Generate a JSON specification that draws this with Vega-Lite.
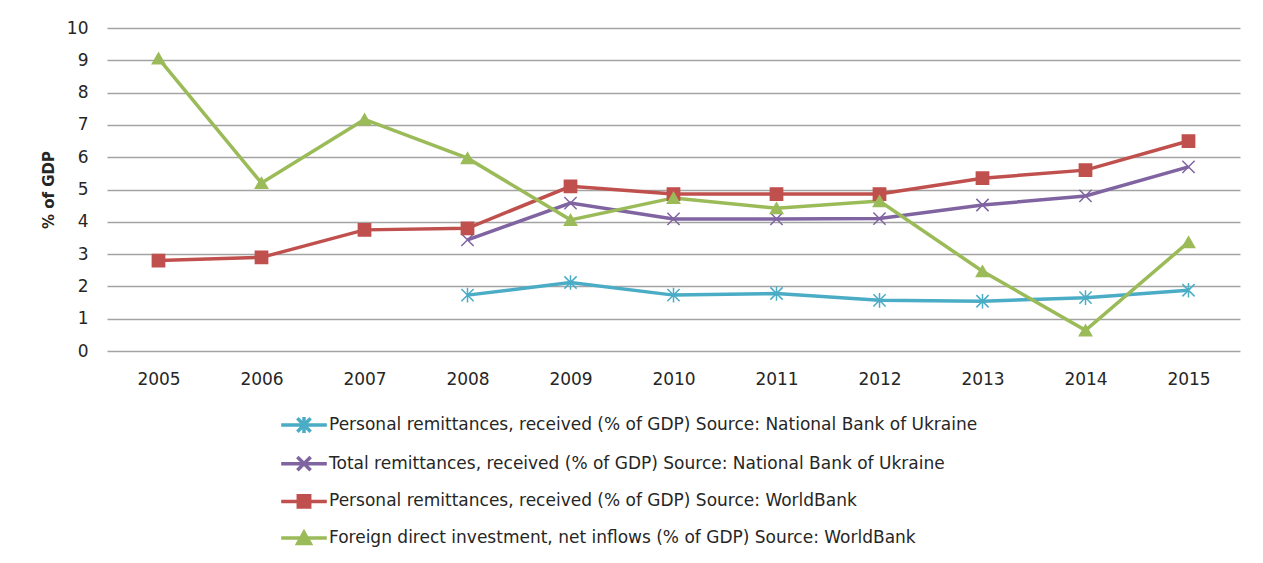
{
  "$schema": "https://vega.github.io/schema/vega-lite/v6.json",
  "width": 1133,
  "height": 323,
  "autosize": {"type": "none"},
  "padding": {"left": 107, "top": 28, "right": 23, "bottom": 212},
  "background": "white",
  "config": {
    "view": {"stroke": null},
    "font": "DejaVu Sans",
    "axis": {"labelFont": "DejaVu Sans", "labelFontSize": 17, "labelColor": "#262626", "titleColor": "#262626"},
    "legend": {"labelFont": "DejaVu Sans"}
  },
  "data": {
    "values": [
      {"year": "2008", "s": "A", "v": 1.73},
      {"year": "2009", "s": "A", "v": 2.12},
      {"year": "2010", "s": "A", "v": 1.73},
      {"year": "2011", "s": "A", "v": 1.78},
      {"year": "2012", "s": "A", "v": 1.57},
      {"year": "2013", "s": "A", "v": 1.54},
      {"year": "2014", "s": "A", "v": 1.65},
      {"year": "2015", "s": "A", "v": 1.88},
      {"year": "2008", "s": "B", "v": 3.44},
      {"year": "2009", "s": "B", "v": 4.58},
      {"year": "2010", "s": "B", "v": 4.09},
      {"year": "2011", "s": "B", "v": 4.09},
      {"year": "2012", "s": "B", "v": 4.1},
      {"year": "2013", "s": "B", "v": 4.52},
      {"year": "2014", "s": "B", "v": 4.8},
      {"year": "2015", "s": "B", "v": 5.7},
      {"year": "2005", "s": "C", "v": 2.8},
      {"year": "2006", "s": "C", "v": 2.9},
      {"year": "2007", "s": "C", "v": 3.75},
      {"year": "2008", "s": "C", "v": 3.8},
      {"year": "2009", "s": "C", "v": 5.1},
      {"year": "2010", "s": "C", "v": 4.86},
      {"year": "2011", "s": "C", "v": 4.86},
      {"year": "2012", "s": "C", "v": 4.86},
      {"year": "2013", "s": "C", "v": 5.35},
      {"year": "2014", "s": "C", "v": 5.6},
      {"year": "2015", "s": "C", "v": 6.5},
      {"year": "2005", "s": "D", "v": 9.06},
      {"year": "2006", "s": "D", "v": 5.2},
      {"year": "2007", "s": "D", "v": 7.17},
      {"year": "2008", "s": "D", "v": 5.97},
      {"year": "2009", "s": "D", "v": 4.06},
      {"year": "2010", "s": "D", "v": 4.74},
      {"year": "2011", "s": "D", "v": 4.42},
      {"year": "2012", "s": "D", "v": 4.64},
      {"year": "2013", "s": "D", "v": 2.47},
      {"year": "2014", "s": "D", "v": 0.64},
      {"year": "2015", "s": "D", "v": 3.37}
    ]
  },
  "encoding": {
    "x": {
      "field": "year", "type": "ordinal", "title": null,
      "scale": {"type": "point", "padding": 0.5},
      "axis": {"labelAngle": 0, "domain": false, "ticks": false, "grid": false, "labelPadding": 20}
    },
    "y": {
      "field": "v", "type": "quantitative", "title": "% of GDP",
      "scale": {"domain": [0, 10], "nice": false, "zero": true},
      "axis": {
        "values": [0, 1, 2, 3, 4, 5, 6, 7, 8, 9, 10],
        "domain": false, "ticks": false, "labelPadding": 19,
        "gridColor": "#a3a3a3", "gridWidth": 1.5,
        "titleFont": "DejaVu Sans", "titleFontSize": 15, "titleFontWeight": "bold", "titlePadding": 10
      }
    }
  },
  "layer": [
    {
      "mark": {"type": "line", "strokeWidth": 3.5},
      "encoding": {
        "color": {
          "field": "s", "type": "nominal",
          "scale": {"domain": ["A", "B", "C", "D"], "range": ["#4bacc6", "#8064a2", "#c0504d", "#9bbb59"]},
          "legend": {
            "title": null,
            "orient": "none",
            "legendX": 176,
            "legendY": 376,
            "direction": "vertical",
            "symbolSize": 1444,
            "symbolStrokeWidth": 3.5,
            "labelFontSize": 17,
            "labelColor": "#262626",
            "labelOffset": 4,
            "rowPadding": 2.7,
            "labelLimit": 900,
            "labelExpr": "datum.value == 'A' ? 'Personal remittances, received (% of GDP) Source: National Bank of Ukraine' : datum.value == 'B' ? 'Total remittances, received (% of GDP) Source: National Bank of Ukraine' : datum.value == 'C' ? 'Personal remittances, received (% of GDP) Source: WorldBank' : 'Foreign direct investment, net inflows (% of GDP) Source: WorldBank'",
            "encode": {
              "symbols": {
                "update": {
                  "shape": {"signal": "datum.value == 'A' ? 'M-1.2,0H1.2M-0.35,-0.35L0.35,0.35M-0.35,0.35L0.35,-0.35M0,-0.42V0.42' : datum.value == 'B' ? 'M-1.2,0H1.2M-0.35,-0.35L0.35,0.35M-0.35,0.35L0.35,-0.35' : datum.value == 'C' ? 'M-1.2,0H1.2M-0.3,-0.3H0.3V0.3H-0.3Z' : 'M-1.2,0H1.2M0,-0.3L0.33,0.28H-0.33Z'"},
                  "fill": {"signal": "scale('color', datum.value)"},
                  "stroke": {"signal": "scale('color', datum.value)"},
                  "strokeWidth": {"value": 3.5}
                }
              }
            }
          }
        }
      }
    },
    {
      "mark": {
        "type": "point", "size": 150, "strokeWidth": 1.5, "opacity": 1,
        "shape": {"expr": "datum.s == 'A' ? 'M-1,-1L1,1M-1,1L1,-1M0,-1.2V1.2' : datum.s == 'B' ? 'M-1,-1L1,1M-1,1L1,-1' : datum.s == 'C' ? 'square' : 'triangle-up'"},
        "fill": {"expr": "datum.s == 'A' ? '#4bacc6' : datum.s == 'B' ? '#8064a2' : datum.s == 'C' ? '#c0504d' : '#9bbb59'"},
        "stroke": {"expr": "datum.s == 'A' ? '#4bacc6' : datum.s == 'B' ? '#8064a2' : datum.s == 'C' ? '#c0504d' : '#9bbb59'"}
      },
      "encoding": {}
    }
  ]
}
